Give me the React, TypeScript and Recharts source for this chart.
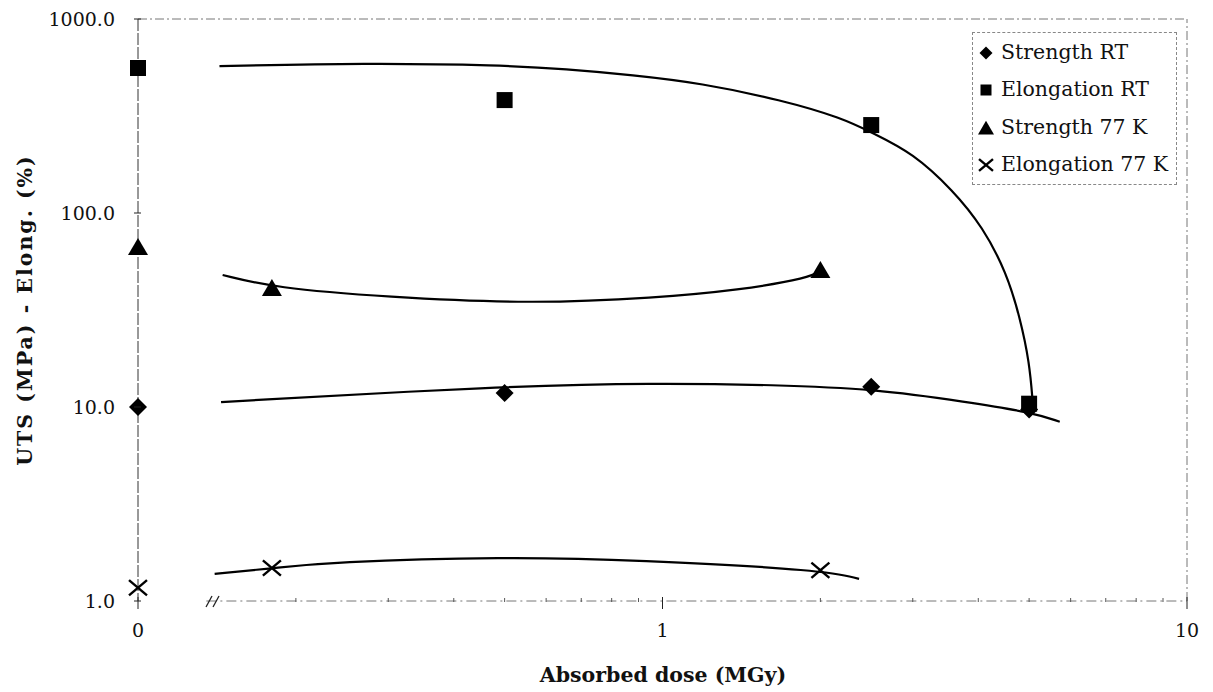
import React from 'react';
import { ComposedChart, Line, Scatter, XAxis, YAxis, ReferenceLine, ReferenceDot } from 'recharts';

const W = 1213;
const H = 692;
const FONT = '"DejaVu Serif", "Liberation Serif", serif';

// unirradiated samples ("0") sit at the left end of the log axis
const ZERO_POS = 0.1;

// measured points
const strengthRtDose = [0, 0.5, 2.5, 5];
const strengthRt = [10, 11.8, 12.7, 9.7];
const elongRtDose = [0, 0.5, 2.5, 5];
const elongRt = [559, 382, 284, 10.4];
const strength77Dose = [0, 0.18, 2.0];
const strength77 = [66.8, 41.1, 50.9];
const elong77Dose = [0, 0.18, 2.0];
const elong77 = [1.17, 1.48, 1.44];

// trend curves
const elongRtFitDose = [0.143, 0.272, 0.489, 0.656, 0.877, 1.18, 1.69, 2.2, 2.52, 3.0, 3.58, 4.08, 4.53, 4.8, 5.01, 5.08];
const elongRtFit = [572, 593, 579, 552, 514, 468, 382, 309, 258, 204, 131, 84.7, 49.1, 29.1, 16.9, 10.5];
const strength77FitDose = [0.145, 0.182, 0.297, 0.562, 0.97, 1.4, 1.91, 2.01];
const strength77Fit = [47.9, 41.1, 36.9, 34.0, 36.5, 40.1, 46.2, 50.9];
const strengthRtFitDose = [0.144, 0.493, 0.965, 1.64, 2.53, 3.82, 5.04, 5.72];
const strengthRtFit = [10.6, 12.8, 13.3, 13.0, 12.4, 10.6, 9.4, 8.4];
const elong77FitDose = [0.14, 0.183, 0.232, 0.501, 0.892, 2.06, 2.37];
const elong77Fit = [1.38, 1.48, 1.59, 1.69, 1.63, 1.44, 1.3];

const xTicks = [0.1, 0.2, 0.3, 0.4, 0.5, 0.6, 0.7, 0.8, 0.9, 1, 2, 3, 4, 5, 6, 7, 8, 9, 10];
const xMajor: Record<number, string> = { 0.1: '0', 1: '1', 10: '10' };
const yTicks = [1, 10, 100, 1000];

const pts = (doses: number[], vals: number[]) =>
  doses.map((d, i) => ({ x: d === 0 ? ZERO_POS : d, y: vals[i] }));

const Diamond = ({ cx, cy, s = 9 }: any) => (
  <polygon points={`${cx},${cy - s} ${cx + s},${cy} ${cx},${cy + s} ${cx - s},${cy}`} fill="#000" />
);
const Square = ({ cx, cy, s = 8 }: any) => (
  <rect x={cx - s} y={cy - s} width={s * 2} height={s * 2} fill="#000" />
);
const Triangle = ({ cx, cy, s = 10 }: any) => (
  <polygon points={`${cx},${cy - s * 0.9} ${cx + s},${cy + s * 0.8} ${cx - s},${cy + s * 0.8}`} fill="#000" />
);
const Cross = ({ cx, cy, s = 9 }: any) => (
  <g stroke="#000" strokeWidth={2.4}>
    <line x1={cx - s} y1={cy - s * 0.85} x2={cx + s} y2={cy + s * 0.85} />
    <line x1={cx - s} y1={cy + s * 0.85} x2={cx + s} y2={cy - s * 0.85} />
  </g>
);

const XTick = ({ x, y, payload }: any) => {
  const label = xMajor[payload.value];
  if (label === undefined) {
    return <line x1={x} y1={y - 3} x2={x} y2={y + 1} stroke="#555" strokeWidth={1} />;
  }
  return (
    <g>
      <line x1={x} y1={y - 4} x2={x} y2={y + 8} stroke="#222" strokeWidth={1} />
      <text x={x} y={y + 36} textAnchor="middle" fontFamily={FONT} fontSize={19} fill="#111">
        {label}
      </text>
    </g>
  );
};

const YTick = ({ x, y, payload }: any) => (
  <g>
    <line x1={x - 4} y1={y} x2={x + 3} y2={y} stroke="#222" strokeWidth={1} />
    <text x={x - 23} y={y} dy="0.36em" textAnchor="end" fontFamily={FONT} fontSize={19} fill="#111">
      {payload.value.toFixed(1)}
    </text>
  </g>
);

const BreakMark = ({ cx, cy }: any) => (
  <g stroke="#222" strokeWidth={1.3}>
    <line x1={cx - 7} y1={cy + 6} x2={cx - 1} y2={cy - 5} />
    <line x1={cx} y1={cy + 6} x2={cx + 6} y2={cy - 5} />
  </g>
);

const legendItems = [
  { name: 'Strength RT', Icon: Diamond, s: 6.5 },
  { name: 'Elongation RT', Icon: Square, s: 5.5 },
  { name: 'Strength 77 K', Icon: Triangle, s: 8 },
  { name: 'Elongation 77 K', Icon: Cross, s: 7 },
];

const border = '#777';
const dash = '9 3 2 3';

export default function App() {
  return (
    <div style={{ position: 'absolute', left: 0, top: 0, width: W, height: H, background: '#fff', fontFamily: FONT }}>
      <ComposedChart width={W} height={H} margin={{ top: 19, right: 26, left: 0, bottom: 0 }}>
        <XAxis
          dataKey="x"
          type="number"
          scale="log"
          domain={[0.1, 10]}
          ticks={xTicks}
          interval={0}
          axisLine={false}
          tickLine={false}
          tickSize={0}
          tickMargin={0}
          height={91}
          tick={<XTick />}
        />
        <YAxis
          dataKey="y"
          type="number"
          scale="log"
          domain={[1, 1000]}
          ticks={yTicks}
          width={138}
          axisLine={{ stroke: '#333', strokeDasharray: '12 2' }}
          tickLine={false}
          tickSize={0}
          tickMargin={0}
          tick={<YTick />}
        />
        <ReferenceLine y={1000} stroke={border} strokeDasharray={dash} />
        <ReferenceLine x={10} stroke={border} strokeDasharray={dash} />
        <ReferenceLine segment={[{ x: 0.135, y: 1 }, { x: 10, y: 1 }]} stroke={border} strokeDasharray="10 4 2 4" />
        <ReferenceDot x={0.139} y={1} r={0} shape={<BreakMark />} />

        <Line data={pts(elongRtFitDose, elongRtFit)} dataKey="y" type="basis" stroke="#000" strokeWidth={2.2} dot={false} isAnimationActive={false} />
        <Line data={pts(strength77FitDose, strength77Fit)} dataKey="y" type="basis" stroke="#000" strokeWidth={2.2} dot={false} isAnimationActive={false} />
        <Line data={pts(strengthRtFitDose, strengthRtFit)} dataKey="y" type="basis" stroke="#000" strokeWidth={2.2} dot={false} isAnimationActive={false} />
        <Line data={pts(elong77FitDose, elong77Fit)} dataKey="y" type="basis" stroke="#000" strokeWidth={2.2} dot={false} isAnimationActive={false} />

        <Scatter name="Strength RT" data={pts(strengthRtDose, strengthRt)} dataKey="y" shape={<Diamond />} isAnimationActive={false} />
        <Scatter name="Elongation RT" data={pts(elongRtDose, elongRt)} dataKey="y" shape={<Square />} isAnimationActive={false} />
        <Scatter name="Strength 77 K" data={pts(strength77Dose, strength77)} dataKey="y" shape={<Triangle />} isAnimationActive={false} />
        <Scatter name="Elongation 77 K" data={pts(elong77Dose, elong77)} dataKey="y" shape={<Cross />} isAnimationActive={false} />
      </ComposedChart>

      <div
        style={{
          position: 'absolute', left: 972, top: 32, width: 205, height: 153, boxSizing: 'border-box',
          border: '1px dashed #888', background: '#fff', paddingTop: 0,
        }}
      >
        {legendItems.map(({ name, Icon, s }) => (
          <div key={name} style={{ display: 'flex', alignItems: 'center', height: 37.5, fontSize: 20.5, color: '#111', whiteSpace: 'nowrap' }}>
            <svg width={28} height={24} style={{ flex: 'none' }}>
              <Icon cx={13} cy={13} s={s} />
            </svg>
            <span>{name}</span>
          </div>
        ))}
      </div>

      <div
        style={{
          position: 'absolute', left: 25, top: 310, transform: 'translate(-50%, -50%) rotate(-90deg)',
          whiteSpace: 'nowrap', fontWeight: 'bold', fontSize: 20.5, letterSpacing: 2, color: '#111',
        }}
      >
        UTS (MPa) - Elong. (%)
      </div>
      <div
        style={{
          position: 'absolute', left: 663, top: 675, transform: 'translate(-50%, -50%)',
          whiteSpace: 'nowrap', fontWeight: 'bold', fontSize: 20.5, color: '#111',
        }}
      >
        Absorbed dose (MGy)
      </div>
    </div>
  );
}
